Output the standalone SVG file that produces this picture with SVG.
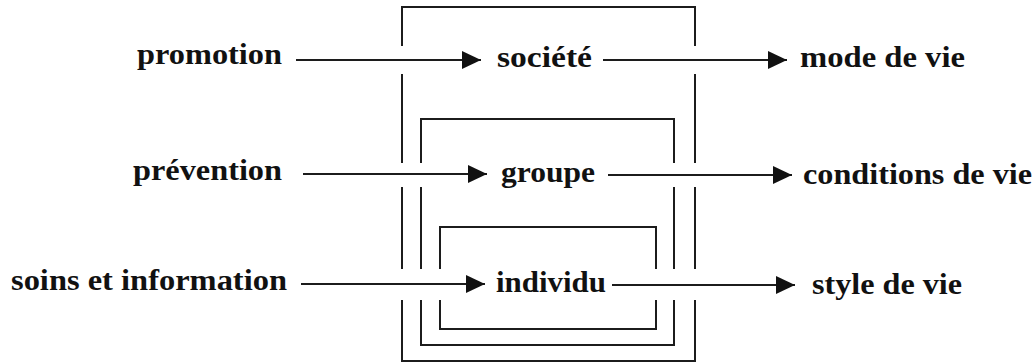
<svg xmlns="http://www.w3.org/2000/svg" width="1036" height="363" viewBox="0 0 1036 363">
  <style>
    .frame { fill: none; stroke: #1c1c1c; stroke-width: 2; }
    .link { fill: none; stroke: #1c1c1c; stroke-width: 2; }
    .lbl { font-family: "Liberation Serif", "Times New Roman", serif; font-weight: bold; font-size: 30px; fill: #111; }
  </style>
  <defs>
    <marker id="arrow" markerUnits="userSpaceOnUse" markerWidth="22" markerHeight="20" refX="19" refY="9" orient="auto">
      <path d="M0,0 L19,9 L0,18 Z" fill="#111"/>
    </marker>
  </defs>

  <rect width="1036" height="363" fill="#ffffff"/>

  <!-- nested frames: société (outer), groupe (middle), individu (inner) -->
  <g id="frame-societe">
    <path class="frame" d="M402,46 V7 H695 V46 M402,74 V163 M402,187 V269 M402,300 V361 H695 V300 M695,269 V187 M695,163 V74"/>
  </g>
  <g id="frame-groupe">
    <path class="frame" d="M421,163 V119 H674 V163 M421,187 V269 M421,300 V345 H674 V300 M674,269 V187"/>
  </g>
  <g id="frame-individu">
    <path class="frame" d="M440,269 V227 H656 V269 M440,300 V329 H656 V300"/>
  </g>

  <!-- left column: actions -->
  <g id="promotion"><text class="lbl" x="137" y="64" textLength="145" lengthAdjust="spacingAndGlyphs">promotion</text></g>
  <g id="prevention"><text class="lbl" x="133" y="180" textLength="149" lengthAdjust="spacingAndGlyphs">prévention</text></g>
  <g id="soins"><text class="lbl" x="11" y="290" textLength="276" lengthAdjust="spacingAndGlyphs">soins et information</text></g>

  <!-- middle column: levels -->
  <g id="societe"><text class="lbl" x="497" y="67" textLength="95" lengthAdjust="spacingAndGlyphs">société</text></g>
  <g id="groupe"><text class="lbl" x="501" y="182" textLength="94" lengthAdjust="spacingAndGlyphs">groupe</text></g>
  <g id="individu"><text class="lbl" x="496" y="292" textLength="110" lengthAdjust="spacingAndGlyphs">individu</text></g>

  <!-- right column: outcomes -->
  <g id="mode-de-vie"><text class="lbl" x="800" y="67" textLength="165" lengthAdjust="spacingAndGlyphs">mode de vie</text></g>
  <g id="conditions-de-vie"><text class="lbl" x="803" y="184" textLength="229" lengthAdjust="spacingAndGlyphs">conditions de vie</text></g>
  <g id="style-de-vie"><text class="lbl" x="812" y="294" textLength="150" lengthAdjust="spacingAndGlyphs">style de vie</text></g>

  <g id="connectors">
    <line class="link" x1="296" y1="60" x2="481" y2="60" marker-end="url(#arrow)"/>
    <line class="link" x1="303" y1="174" x2="487" y2="174" marker-end="url(#arrow)"/>
    <line class="link" x1="301" y1="284" x2="485" y2="284" marker-end="url(#arrow)"/>
    <line class="link" x1="603" y1="60" x2="787" y2="60" marker-end="url(#arrow)"/>
    <line class="link" x1="608" y1="175" x2="792" y2="175" marker-end="url(#arrow)"/>
    <line class="link" x1="612" y1="285" x2="795" y2="285" marker-end="url(#arrow)"/>
  </g>
</svg>
